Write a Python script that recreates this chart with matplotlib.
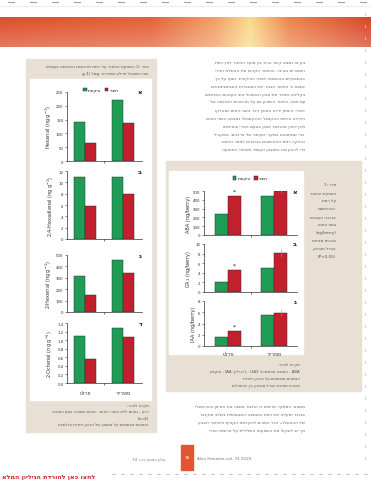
import numpy as np
import matplotlib
matplotlib.use("Agg")
import matplotlib.pyplot as plt
import matplotlib.patches as mpatches

W, H = 371, 481

# chart data read from the page
cultivars = ["פרלט", "סופריור"]
series_names = ["ביקורת", "חיגור"]
hexanal_ctrl = [141, 221]
hexanal_gird = [65, 138]
hexadienal_ctrl = [10.9, 11.0]
hexadienal_gird = [5.8, 8.0]
hexenal_ctrl = [318, 460]
hexenal_gird = [150, 345]
octenal_ctrl = [1.09, 1.28]
octenal_gird = [0.56, 1.07]
aba_ctrl = [239, 443]
aba_gird = [443, 495]
ga_ctrl = [2.0, 5.0]
ga_gird = [4.5, 8.1]
iaa_ctrl = [1.6, 5.5]
iaa_gird = [2.7, 5.9]

GREEN = "#1f9d57"
RED = "#c1202c"
BEIGE = "#e8e0d5"
TXT = "#666666"


def heb(s):
    # matplotlib lays text left to right, so flip the Hebrew words
    out = []
    for w in s.split(" ")[::-1]:
        if any("\u0590" <= c <= "\u05ff" for c in w):
            w = w[::-1]
        out.append(w)
    return " ".join(out)


def px_axes(x0, y0, x1, y1, **kw):
    return fig.add_axes([x0 / W, 1 - y1 / H, (x1 - x0) / W, (y1 - y0) / H], **kw)


fig = plt.figure(figsize=(W / 100, H / 100), dpi=100)
plt.rcParams['font.family'] = ['DejaVu Sans']

# page background layer in pixel coords
bg = px_axes(0, 0, W, H)
bg.set_xlim(0, W)
bg.set_ylim(H, 0)
bg.axis("off")

# registration strip at the top
for x in range(8, W, 22):
    bg.plot([x, x + 6], [3, 3], color="#9aa0b0", lw=0.8)
bg.plot([0, W], [6.5, 6.5], color="#e6e6e6", lw=0.5)

# orange header band
xs = np.linspace(0, W, 400)
stops_x = [0, 150, 215, 250, 290, W]
stops_c = np.array([[0.87, 0.30, 0.17], [0.90, 0.38, 0.22], [0.95, 0.62, 0.40],
                    [0.98, 0.86, 0.55], [0.93, 0.52, 0.30], [0.85, 0.27, 0.16]])
row = np.stack([np.interp(xs, stops_x, stops_c[:, k]) for k in range(3)], axis=1)
vert = np.linspace(0, 0.25, 30)[:, None, None]
band = row[None, :, :] * (1 - vert) + vert
bg.imshow(band, extent=(0, W, 48, 18), aspect="auto", zorder=1)

# right edge dotted rule
for y in range(14, 470, 12):
    bg.plot([365, 365], [y, y + 2], color="#c8c8c8", lw=0.6)

# left figure box
bg.add_patch(mpatches.Rectangle((26, 60), 130, 373, color=BEIGE, zorder=1))
bg.add_patch(mpatches.Rectangle((30, 80), 121, 321, color="white", zorder=2))
bg.text(149, 66, heb("איור 2: השפעת החיגור על רמת תרכובות הארומה בענבים"),
        ha="right", va="center", fontsize=3.1, color="#555", zorder=3)
bg.text(149, 74, heb("בזני המאכל פרלט וסופריור (ng g-1)"),
        ha="right", va="center", fontsize=3.1, color="#555", zorder=3)
left_notes = ["מקרא לאיור:", "ירוק - גפנים ללא חיגור; אדום - גפנים שחוגרו בזמן החנטה",
              "(n=4)", "הנתונים מבוססים על ממוצע של ארבע חזרות ביולוגיות"]
for i, t in enumerate(left_notes):
    bg.text(149, 406 + i * 6.5, heb(t), ha="right", va="center",
            fontsize=2.8, color="#555", zorder=3)

# right figure box
bg.add_patch(mpatches.Rectangle((166, 162), 195, 230, color=BEIGE, zorder=1))
bg.add_patch(mpatches.Rectangle((169, 172), 134, 183, color="white", zorder=2))
right_caption = ["איור 1:", "השפעת החיגור", "על רמת", "ההורמונים", "בגרגרי הענבים",
                 "בשני הזנים", "(ng/berry)", "כוכבית מציינת", "הבדל מובהק", "(P<0.05)"]
for i, t in enumerate(right_caption):
    bg.text(336, 185 + i * 8, heb(t), ha="right", va="center",
            fontsize=3.0, color="#555", zorder=3)
right_notes = ["מקרא לאיור:", "ABA - חומצה אבסיסית; GA3 - ג'יברלין; IAA - אוקסין",
               "הנתונים מבוססים על ארבע חזרות", "כוכבית מציינת הבדל מובהק בין הטיפולים"]
for i, t in enumerate(right_notes):
    bg.text(300, 365 + i * 7, heb(t), ha="right", va="center",
            fontsize=2.8, color="#555", zorder=3)

# body text
top_lines = [
    "בזן זה נמצא קשר ברור בין מועד החיגור לבין רמת",
    "הסוכרים בגרגר, והחיגור הקדים את הבשלת הפרי",
    "בכשבועיים בהשוואה לגפני הביקורת. נוסף על כך",
    "נמצא כי החיגור הגביר את הצטברות האנתוציאנינים",
    "בקליפה ושיפר את צבע האשכול בזני הענבים האדומים",
    "עם זאת, החיגור השפיע גם על תרכובות הארומה של",
    "הפרי, ורמתן ירדה באופן ניכר בשני הזנים שנבדקו",
    "הירידה ברמת ההקסנל וההקסנאל נמצאה בשני הזנים",
    "ולכן ייתכן שהחיגור פוגע בטעם הפרי ובאיכותו",
    "כפי שמתבטא בסקרי טעימה של צרכנים. במקביל",
    "נבדקה רמת ההורמונים בגרגרים לאחר החיגור",
    "כדי להבין את המנגנון העומד מאחורי התופעה",
]
for i, t in enumerate(top_lines):
    bg.text(305, 63 + i * 7.95, heb(t), ha="right", va="center",
            fontsize=3.2, color=TXT, zorder=3)
bottom_lines = [
    "ממצאי המחקר מראים כי החיגור משנה את האיזון ההורמונלי",
    "בגרגר ומעלה את רמת החומצה האבסיסית בשלב מוקדם",
    "של ההבשלה, דבר התורם להקדמת הקטיף ולשיפור הצבע",
    "אך יש לשקול את השפעתו השלילית על ארומת הפרי",
]
for i, t in enumerate(bottom_lines):
    bg.text(305, 407 + i * 8, heb(t), ha="right", va="center",
            fontsize=3.2, color=TXT, zorder=3)

# footer
bg.add_patch(mpatches.Rectangle((181, 446), 12, 25, color="#e2552e", zorder=2))
bg.text(187, 458, "38", ha="center", va="center", fontsize=3, color="white", zorder=3)
bg.text(197, 459, "Alon Hanotea vol. 74 2020", ha="left", va="center",
        fontsize=3.0, color="#777", zorder=3)
bg.text(165, 460, heb("עלון הנוטע כרך 74"), ha="right", va="center",
        fontsize=3.0, color="#777", zorder=3)
for x in range(112, 370, 9):
    bg.plot([x, x + 3], [475, 475], color="#aaaaaa", lw=0.5)
bg.text(2, 477.5, heb("לחצו כאן להורדת הגיליון המלא"), ha="left", va="center",
        fontsize=4.6, color="#d0202a", fontweight="bold", zorder=3)


def bar_chart(box, xlim, ctrl, gird, ylim, yticks, ylabel, letter, fmt="{:g}",
              err=None, stars=(), legend=None, xlabels=False):
    ax = px_axes(*box)
    ax.set_zorder(5)
    ax.patch.set_alpha(0)
    x = np.arange(len(ctrl))
    w = 0.29
    kw = dict(width=w, edgecolor="#303030", linewidth=0.35)
    ax.bar(x - w / 2, ctrl, color=GREEN, label=heb(series_names[0]), **kw)
    ax.bar(x + w / 2, gird, color=RED, label=heb(series_names[1]), **kw)
    if err is not None:
        ax.errorbar([1 + w / 2], [gird[1]], yerr=[err], fmt="none", ecolor="#999",
                    elinewidth=0.4, capsize=0)
    for i in stars:
        ax.text(i + w / 2, gird[i] + (ylim[1] - ylim[0]) * 0.06, "*", ha="center",
                va="bottom", fontsize=4.5, color="#222")
    ax.set_xlim(*xlim)
    ax.set_ylim(*ylim)
    ax.set_yticks(yticks)
    ax.set_yticklabels([fmt.format(v) for v in yticks])
    ax.set_xticks([0.5])
    ax.set_xticklabels([])
    ax.tick_params(axis="y", labelsize=2.8, length=1.5, width=0.4, pad=1, colors="#333")
    ax.tick_params(axis="x", length=1.5, width=0.4)
    for s in ["top", "right"]:
        ax.spines[s].set_visible(False)
    for s in ["left", "bottom"]:
        ax.spines[s].set_linewidth(0.5)
        ax.spines[s].set_color("#333")
    ax.set_ylabel(ylabel, fontsize=3.6, labelpad=1.5, color="#333")
    ax.text(1.5, ylim[1], letter, ha="right", va="center", fontsize=4.5,
            fontweight="bold", color="#222")
    if legend is not None:
        ax.legend(loc="lower center", bbox_to_anchor=legend, ncol=2, frameon=False,
                  fontsize=3.2, handlelength=0.8, handleheight=0.8, handletextpad=0.3,
                  columnspacing=0.8, borderaxespad=0)
    if xlabels:
        for i, c in enumerate(cultivars):
            ax.text(i, -(ylim[1] - ylim[0]) * 0.12, heb(c), ha="center", va="top",
                    fontsize=3.4, color="#333")
    return ax


lx = (-0.47, 1.5)
bar_chart((67, 93, 142, 162), lx, hexanal_ctrl, hexanal_gird, (0, 250),
          [0, 50, 100, 150, 200, 250], "Hexanal (ng g$^{-1}$)", "א", legend=(0.45, 0.97))
bar_chart((67, 172, 142, 240), lx, hexadienal_ctrl, hexadienal_gird, (0, 12),
          [0, 2, 4, 6, 8, 10, 12], "2,4-Hexadienal (ng g$^{-1}$)", "ב")
bar_chart((67, 256, 142, 313), lx, hexenal_ctrl, hexenal_gird, (0, 500),
          [0, 100, 200, 300, 400, 500], "2-Hexenal (ng g$^{-1}$)", "ג")
bar_chart((67, 324, 142, 384), lx, octenal_ctrl, octenal_gird, (0, 1.4),
          [0, 0.2, 0.4, 0.6, 0.8, 1.0, 1.2, 1.4], "2-Octenal (ng g$^{-1}$)", "ד",
          fmt="{:.1f}", xlabels=True)

rx = (-0.52, 1.5)
bar_chart((204, 192, 297, 236), rx, aba_ctrl, aba_gird, (0, 500),
          [0, 100, 200, 300, 400, 500], "ABA (ng/berry)", "א", err=20,
          stars=[0], legend=(0.5, 1.2))
bar_chart((204, 245, 297, 293), rx, ga_ctrl, ga_gird, (0, 10),
          [0, 2, 4, 6, 8, 10], "GA$_3$ (ng/berry)", "ב", err=0.8, stars=[0])
bar_chart((204, 302, 297, 347), rx, iaa_ctrl, iaa_gird, (0, 8),
          [0, 2, 4, 6, 8], "IAA (ng/berry)", "ג", err=0.6, stars=[0], xlabels=True)

fig.savefig("out.png", dpi=100)
